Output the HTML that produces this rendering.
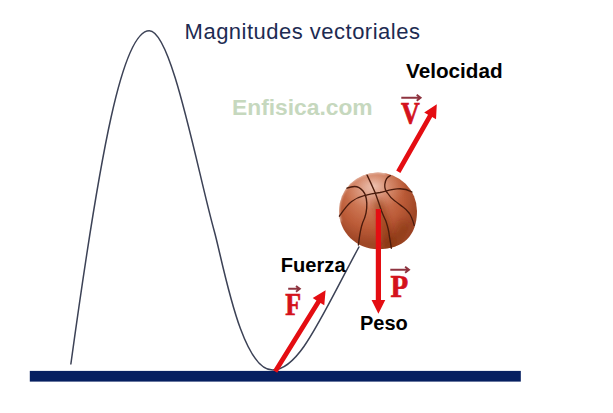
<!DOCTYPE html>
<html><head><meta charset="utf-8">
<style>
html,body{margin:0;padding:0;background:#fff;}
body{width:613px;height:413px;overflow:hidden;position:relative;}
svg{position:absolute;left:0;top:0;}
</style></head>
<body>
<svg width="613" height="413" viewBox="0 0 613 413">
<defs>
<radialGradient id="ballg" cx="372" cy="198" r="46" fx="368" fy="190" gradientUnits="userSpaceOnUse">
<stop offset="0" stop-color="#da9a82"/>
<stop offset="0.35" stop-color="#ce7856"/>
<stop offset="0.7" stop-color="#bc5c38"/>
<stop offset="1" stop-color="#9e4626"/>
</radialGradient>
<radialGradient id="hl" cx="374" cy="186" r="26" gradientUnits="userSpaceOnUse" gradientTransform="translate(374,186) scale(1.25,0.9) translate(-374,-186)">
<stop offset="0" stop-color="#f4d2c4" stop-opacity="0.75"/>
<stop offset="0.5" stop-color="#e8b4a0" stop-opacity="0.35"/>
<stop offset="1" stop-color="#e0a890" stop-opacity="0"/>
</radialGradient>
<filter id="soft" x="-20%" y="-20%" width="140%" height="140%"><feGaussianBlur stdDeviation="0.45"/></filter>
<filter id="blur1" x="-50%" y="-50%" width="200%" height="200%"><feGaussianBlur stdDeviation="1.2"/></filter>
<filter id="blur3" x="-50%" y="-50%" width="200%" height="200%"><feGaussianBlur stdDeviation="3"/></filter>
<clipPath id="ballclip"><path d="M339,211 A39,38.5 0 0 1 417,211 C417,236 403,249.2 378,249.2 C356.5,249.2 339,232.5 339,211 Z"/></clipPath>
</defs>
<rect x="29.8" y="370.9" width="491" height="10.7" fill="#061f60"/>
<path d="M70.8,364.5 C100.4,149.5 122.6,30.8 149.3,30.8 C171.9,30.8 197.4,171.1 214.3,231.2 C223.2,263.1 241.2,370.0 272.6,370.0 C299.2,370.0 320.3,318.4 359.2,246.5" fill="none" stroke="#3c4256" stroke-width="1.5"/>
<text x="184.6" y="38.5" font-family="Liberation Sans" font-size="22" letter-spacing="0.49" fill="#1d2b52">Magnitudes vectoriales</text>
<text x="232" y="114.7" font-family="Liberation Sans" font-weight="bold" font-size="22.8" fill="#c6d8be">Enfisica.com</text>
<text x="406" y="78" font-family="Liberation Sans" font-weight="bold" font-size="20.7" fill="#000">Velocidad</text>
<text x="280.8" y="272.3" font-family="Liberation Sans" font-weight="bold" font-size="20.1" fill="#000">Fuerza</text>
<text x="360" y="330" font-family="Liberation Sans" font-weight="bold" font-size="20" fill="#000">Peso</text>
<!-- ball -->
<g filter="url(#soft)">
<path d="M339,211 A39,38.5 0 0 1 417,211 C417,236 403,249.2 378,249.2 C356.5,249.2 339,232.5 339,211 Z" fill="url(#ballg)"/>
<g clip-path="url(#ballclip)">
<rect x="330" y="160" width="90" height="60" fill="url(#hl)"/>
<path d="M339.5,222 A39,39 0 0 1 386,172.5" stroke="#f3ddd4" stroke-opacity="0.75" stroke-width="4" fill="none" filter="url(#blur1)"/>
<path d="M377,200 C381,210 386,225 390,248" stroke="#7a2810" stroke-opacity="0.4" stroke-width="10" fill="none" filter="url(#blur3)"/>
<path d="M405,222 C400,235 395,245 385,252" stroke="#7a2810" stroke-opacity="0.3" stroke-width="12" fill="none" filter="url(#blur3)"/>
</g>
<g fill="none" stroke="#4a1a0c" stroke-width="1.35" stroke-linecap="round">
<path d="M339.4,216.2 C343,211 347,205 351.3,201.8 C356,198 360,196.5 363.3,195.8 C368,194.5 376,193 380,192.5 C385,191.5 392,189 400,188.7 C405,188.7 409,190.3 412,192"/>
<path d="M367.1,175.1 C369,179 372,185.4 375.3,193 C377,198 379,203 381.5,211 C383,215 385,219 385.9,221 C387.5,226 389,232 389.2,235.2 C390,240 391,245 391.3,248.3"/>
<path d="M347,188.2 C350,187 352,186.5 354.6,186.5 C358,186.5 361.1,188.7 363,191 C365.5,194 366.6,199 366.8,203 C367,208 366,216 362.8,222.2 C361,227 359.5,235 358.4,245"/>
<path d="M390.3,175.6 C388,176.5 385.5,179 384.8,184.3 C384.5,188 385.5,191 387.5,193 C390,197 392,199 394.6,200.7 C398,203 400,205 403.3,207.2 C406,209 408,211.5 409.5,213.5 C411.5,216.5 413,221 414.2,225.4"/>
</g>
</g>
<!-- arrows -->
<g fill="#e40d12" stroke="none">
<polygon points="400.38,172.89 432.20,117.12 436.02,119.30 436.80,104.20 424.20,112.56 428.03,114.74 396.22,170.51"/>
<polygon points="277.24,372.76 320.53,302.94 324.27,305.26 325.60,290.20 312.71,298.09 316.45,300.41 273.16,370.24"/>
<polygon points="375.80,209.00 375.80,300.00 371.55,300.00 378.40,313.80 385.25,300.00 381.00,300.00 381.00,209.00"/>
</g>
<g font-family="Liberation Serif" font-weight="bold" fill="#d4121c" stroke="#d4121c" stroke-width="0.7">
<text transform="translate(400.9,124.2) scale(0.826,1)" font-size="31.5">V</text>
<text transform="translate(390.57,296.57) scale(0.93,1)" font-size="31.1">P</text>
<text transform="translate(285.33,315.15) scale(0.847,1)" font-size="30.6">F</text>
</g>
<g stroke="#8e3440" stroke-width="1.9" fill="none">
<path d="M401.3,97.7 H420.6 M416.7,94.7 L420.6,97.7 L416.7,100.7"/>
<path d="M390.3,269.7 H409 M405.1,266.7 L409,269.7 L405.1,272.7"/>
<path d="M288.2,288.8 H299.8 M296,285.9 L299.8,288.8 L296,291.7"/>
</g>
</svg>
</body></html>
